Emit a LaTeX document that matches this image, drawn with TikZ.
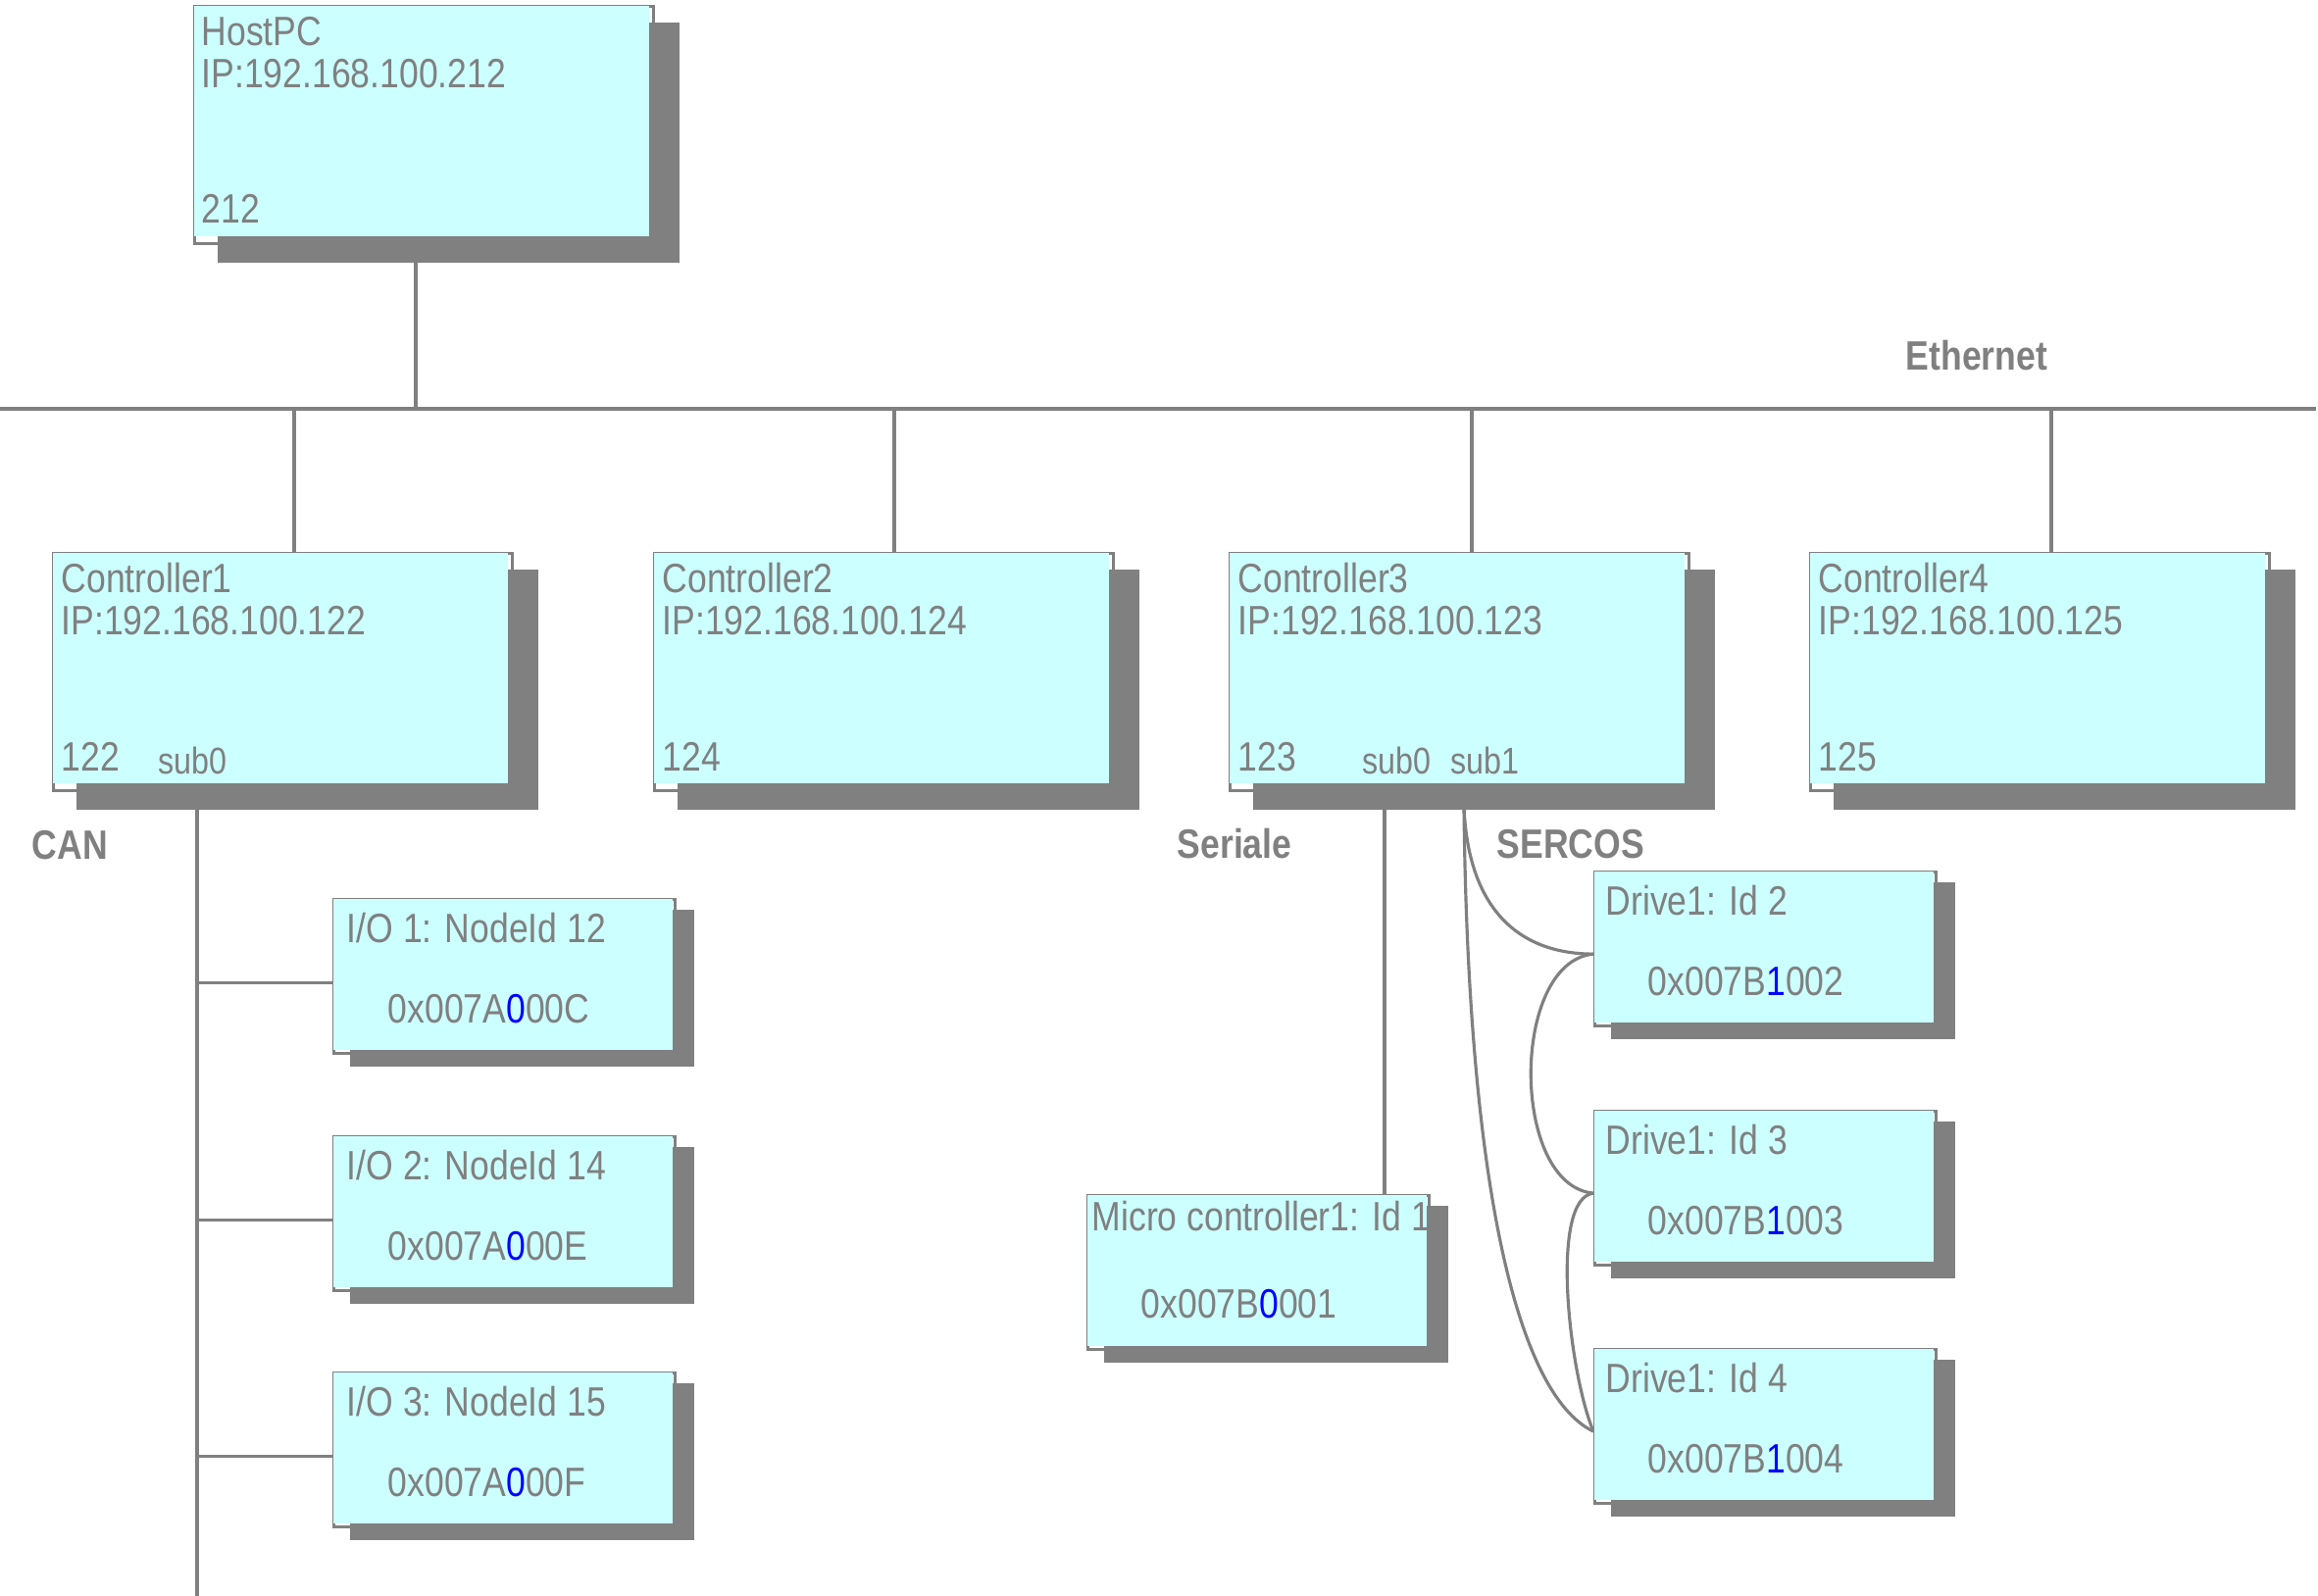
\documentclass[tikz,border=0pt]{standalone}
\usepackage{fontspec}
\setmainfont[FakeStretch=0.85]{Liberation Sans}
\usepackage{tikz}
\definecolor{netgray}{RGB}{128,128,128}
\definecolor{netcyan}{RGB}{204,255,255}
\definecolor{netblue}{RGB}{0,0,255}

\begin{document}
\begin{tikzpicture}[x = 0.01cm , y = -0.01cm ,
    every node/.style = {inner sep = 0pt , text = netgray , font = \fontsize{11.9}{14}\selectfont},
    boxframe/.style = {draw = netgray , fill = white , line width = 0.9pt , anchor = north west},
    bigbox/.style = {boxframe , minimum width = 4.68cm , minimum height = 2.42cm},
    smallbox/.style = {boxframe , minimum width = 3.48cm , minimum height = 1.57cm},
    txt/.style = {anchor = base west},
    subtxt/.style = {anchor = base west , font = \fontsize{10.8}{13}\selectfont},
    netname/.style = {anchor = base west , font = \fontsize{11.9}{14}\selectfont\bfseries},
    wire/.style = {draw = netgray , line width = 0.9pt}]
    \useasboundingbox (0,0) rectangle (2364,1628);

    % riquadri
    \node[bigbox] (host) at (197,5) {};
    \node[bigbox] (c1) at (53,563) {};
    \node[bigbox] (c2) at (666,563) {};
    \node[bigbox] (c3) at (1253,563) {};
    \node[bigbox] (c4) at (1845,563) {};
    \node[smallbox] (io1) at (339,916) {};
    \node[smallbox] (io2) at (339,1158) {};
    \node[smallbox] (io3) at (339,1399) {};
    \node[smallbox] (mc1) at (1108,1218) {};
    \node[smallbox] (d2) at (1625,888) {};
    \node[smallbox] (d3) at (1625,1132) {};
    \node[smallbox] (d4) at (1625,1375) {};

    % Ethernet
    \coordinate (buswest) at (0,417);
    \coordinate (buseast) at (2362,417);
    \coordinate (tap0) at (424,417);
    \coordinate (tap1) at (300,417);
    \coordinate (tap2) at (912,417);
    \coordinate (tap3) at (1501,417);
    \coordinate (tap4) at (2092,417);
    \draw[wire] (buswest) -- (buseast);
    \draw[wire] (tap0) -- (tap0 |- host.south);
    \draw[wire] (tap1) -- (tap1 |- c1.north);
    \draw[wire] (tap2) -- (tap2 |- c2.north);
    \draw[wire] (tap3) -- (tap3 |- c3.north);
    \draw[wire] (tap4) -- (tap4 |- c4.north);

    % CAN
    \coordinate (can0) at (201,823);
    \coordinate (can1) at (201,1628);
    \draw[wire] (can0) -- (can1);
    \draw[wire] ([yshift = -0.6mm]io1.west) -- ([yshift = -0.6mm]io1.west -| can0);
    \draw[wire] ([yshift = -0.6mm]io2.west) -- ([yshift = -0.6mm]io2.west -| can0);
    \draw[wire] ([yshift = -0.6mm]io3.west) -- ([yshift = -0.6mm]io3.west -| can0);

    % Seriale e SERCOS
    \coordinate (sub0pt) at (1412,824);
    \coordinate (sub1pt) at (1493,824);
    \draw[wire] (sub0pt) -- (sub0pt |- mc1.north);
    \draw[wire] (sub1pt) .. controls +(5,110) and +(-70,0) .. ([yshift = -0.5mm]d2.west);
    \draw[wire] ([yshift = -0.5mm]d2.west) .. controls +(-85,8) and +(-85,-8) .. ([yshift = -0.5mm]d3.west);
    \draw[wire] ([yshift = -0.5mm]d3.west) .. controls +(-45,5) and +(-25,-60) .. ([yshift = -0.5mm]d4.west);
    \draw[wire] (sub1pt) .. controls +(4,376) and +(-80,-39) .. ([yshift = -0.5mm]d4.west);

    % ombre
    \foreach \n in {host,c1,c2,c3,c4} {
        \fill[netgray] ([shift = {(25,18)}]\n.north west) rectangle ([shift = {(25,18)}]\n.south east);
        \fill[netcyan] ([shift = {(1,1)}]\n.north west) rectangle ([shift = {(-6,-9)}]\n.south east);
    }
    \foreach \n in {io1,io2,io3,mc1,d2,d3,d4} {
        \fill[netgray] ([shift = {(18,12)}]\n.north west) rectangle ([shift = {(18,12)}]\n.south east);
        \fill[netcyan] ([shift = {(1,1)}]\n.north west) rectangle ([shift = {(-4,-5)}]\n.south east);
    }

    % testi
    \node[txt] (hostname) at ([shift = {(8,42)}]host.north west) {HostPC};
    \node[txt] (hostip) at ([shift = {(8,85)}]host.north west) {IP:192.168.100.212};
    \node[txt] (hostnum) at ([shift = {(8,223)}]host.north west) {212};

    \node[txt] (c1name) at ([shift = {(9,42)}]c1.north west) {Controller1};
    \node[txt] (c1ip) at ([shift = {(9,84)}]c1.north west) {IP:192.168.100.122};
    \node[txt] (c1num) at ([shift = {(9,223)}]c1.north west) {122};
    \node[subtxt] (c1sub0) at ([shift = {(108,226)}]c1.north west) {sub0};

    \node[txt] (c2name) at ([shift = {(9,42)}]c2.north west) {Controller2};
    \node[txt] (c2ip) at ([shift = {(9,84)}]c2.north west) {IP:192.168.100.124};
    \node[txt] (c2num) at ([shift = {(9,223)}]c2.north west) {124};

    \node[txt] (c3name) at ([shift = {(9,42)}]c3.north west) {Controller3};
    \node[txt] (c3ip) at ([shift = {(9,84)}]c3.north west) {IP:192.168.100.123};
    \node[txt] (c3num) at ([shift = {(9,223)}]c3.north west) {123};
    \node[subtxt] (c3sub0) at ([shift = {(136,226)}]c3.north west) {sub0};
    \node[subtxt] (c3sub1) at ([shift = {(226,226)}]c3.north west) {sub1};

    \node[txt] (c4name) at ([shift = {(9,42)}]c4.north west) {Controller4};
    \node[txt] (c4ip) at ([shift = {(9,84)}]c4.north west) {IP:192.168.100.125};
    \node[txt] (c4num) at ([shift = {(9,223)}]c4.north west) {125};

    \node[txt] (io1name) at ([shift = {(14,45)}]io1.north west) {I/O 1: NodeId 12};
    \node[txt] (io1hex) at ([shift = {(56,127)}]io1.north west) {0x007A{\color{netblue}0}00C};
    \node[txt] (io2name) at ([shift = {(14,45)}]io2.north west) {I/O 2: NodeId 14};
    \node[txt] (io2hex) at ([shift = {(56,127)}]io2.north west) {0x007A{\color{netblue}0}00E};
    \node[txt] (io3name) at ([shift = {(14,45)}]io3.north west) {I/O 3: NodeId 15};
    \node[txt] (io3hex) at ([shift = {(56,127)}]io3.north west) {0x007A{\color{netblue}0}00F};

    \node[txt] (mc1name) at ([shift = {(5,37)}]mc1.north west) {Micro controller1: Id 1};
    \node[txt] (mc1hex) at ([shift = {(55,126)}]mc1.north west) {0x007B{\color{netblue}0}001};

    \node[txt] (d2name) at ([shift = {(12,45)}]d2.north west) {Drive1: Id 2};
    \node[txt] (d2hex) at ([shift = {(55,127)}]d2.north west) {0x007B{\color{netblue}1}002};
    \node[txt] (d3name) at ([shift = {(12,45)}]d3.north west) {Drive1: Id 3};
    \node[txt] (d3hex) at ([shift = {(55,127)}]d3.north west) {0x007B{\color{netblue}1}003};
    \node[txt] (d4name) at ([shift = {(12,45)}]d4.north west) {Drive1: Id 4};
    \node[txt] (d4hex) at ([shift = {(55,127)}]d4.north west) {0x007B{\color{netblue}1}004};

    % nomi delle reti
    \node[netname] (ethname) at (1943,378) {Ethernet};
    \node[netname] (canname) at (32,876) {CAN};
    \node[netname] (sername) at (1200,875) {Seriale};
    \node[netname] (sercosname) at (1526,875) {SERCOS};
\end{tikzpicture}
\end{document}
